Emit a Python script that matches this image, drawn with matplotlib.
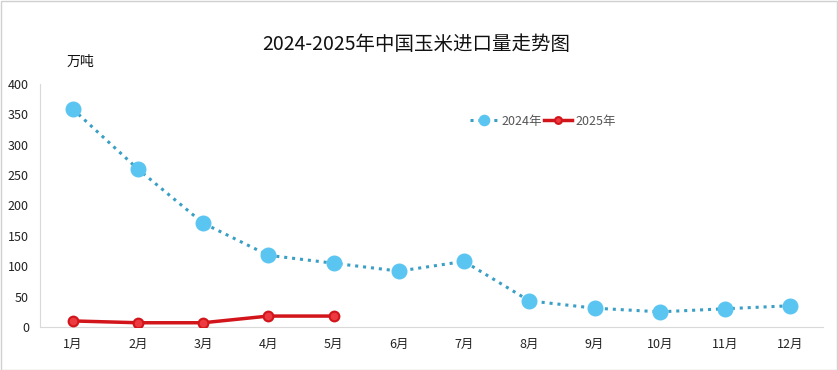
import matplotlib.pyplot as plt
from matplotlib.patches import Rectangle

plt.rcParams['font.family'] = ['Noto Sans CJK SC', 'DejaVu Sans']

months = ['1月', '2月', '3月', '4月', '5月', '6月', '7月', '8月', '9月', '10月', '11月', '12月']
imports_2024 = [359, 260, 171, 118, 105, 92, 108, 43, 31, 25, 30, 35]
imports_2025 = [10, 7, 7, 18, 18]

W, H = 838, 370
fig = plt.figure(figsize=(W / 100, H / 100), dpi=100)
fig.patches.append(Rectangle((0.5 / W, 0.5 / H), 1 - 1.5 / W, 1 - 1.5 / H,
                             transform=fig.transFigure, fill=False,
                             edgecolor='#d0d0d0', linewidth=1))

left, right, top, bottom = 40, 823, 84, 327
ax = fig.add_axes([left / W, 1 - bottom / H, (right - left) / W, (bottom - top) / H])

x = list(range(len(months)))
ax.plot(x, imports_2024, color='#3a9fc4', linestyle=(0, (1, 1.6)), linewidth=2.2,
        marker='o', markersize=10.5, markerfacecolor='#5bc5f2',
        markeredgecolor='#5bc5f2', label='2024年', zorder=3)
ax.plot(x[:len(imports_2025)], imports_2025, color='#d2151b', linewidth=2.5,
        marker='o', markersize=7, markerfacecolor='#ec3a40',
        markeredgecolor='#d2151b', markeredgewidth=1.5, label='2025年', zorder=4)

ax.set_xlim(-0.5, 11.5)
ax.set_ylim(0, 400)
ax.set_yticks(range(0, 401, 50))
ax.set_xticks(x)
ax.set_xticklabels(months)
ax.tick_params(axis='both', length=0, labelsize=9, colors='#222222')
ax.tick_params(axis='x', pad=8)
ax.tick_params(axis='y', pad=8)
for s in ['top', 'right']:
    ax.spines[s].set_visible(False)
ax.spines['left'].set_color('#d9d9d9')
ax.spines['bottom'].set_color('#d9d9d9')

fig.text(0.5 - 3 / W, 1 - 45 / H, '2024-2025年中国玉米进口量走势图', ha='center', va='center',
         fontsize=14, color='#111111')
fig.text(67 / W, 1 - 62 / H, '万吨', ha='left', va='center', fontsize=10, color='#111111')

ax.legend(loc='center', bbox_to_anchor=(543 / W, 1 - 121 / H), bbox_transform=fig.transFigure,
          ncol=2, frameon=False, fontsize=9, handlelength=2.2, handletextpad=0.3,
          columnspacing=0.2, labelcolor='#555555', markerscale=0.7)

fig.savefig('out.png', dpi=100)
